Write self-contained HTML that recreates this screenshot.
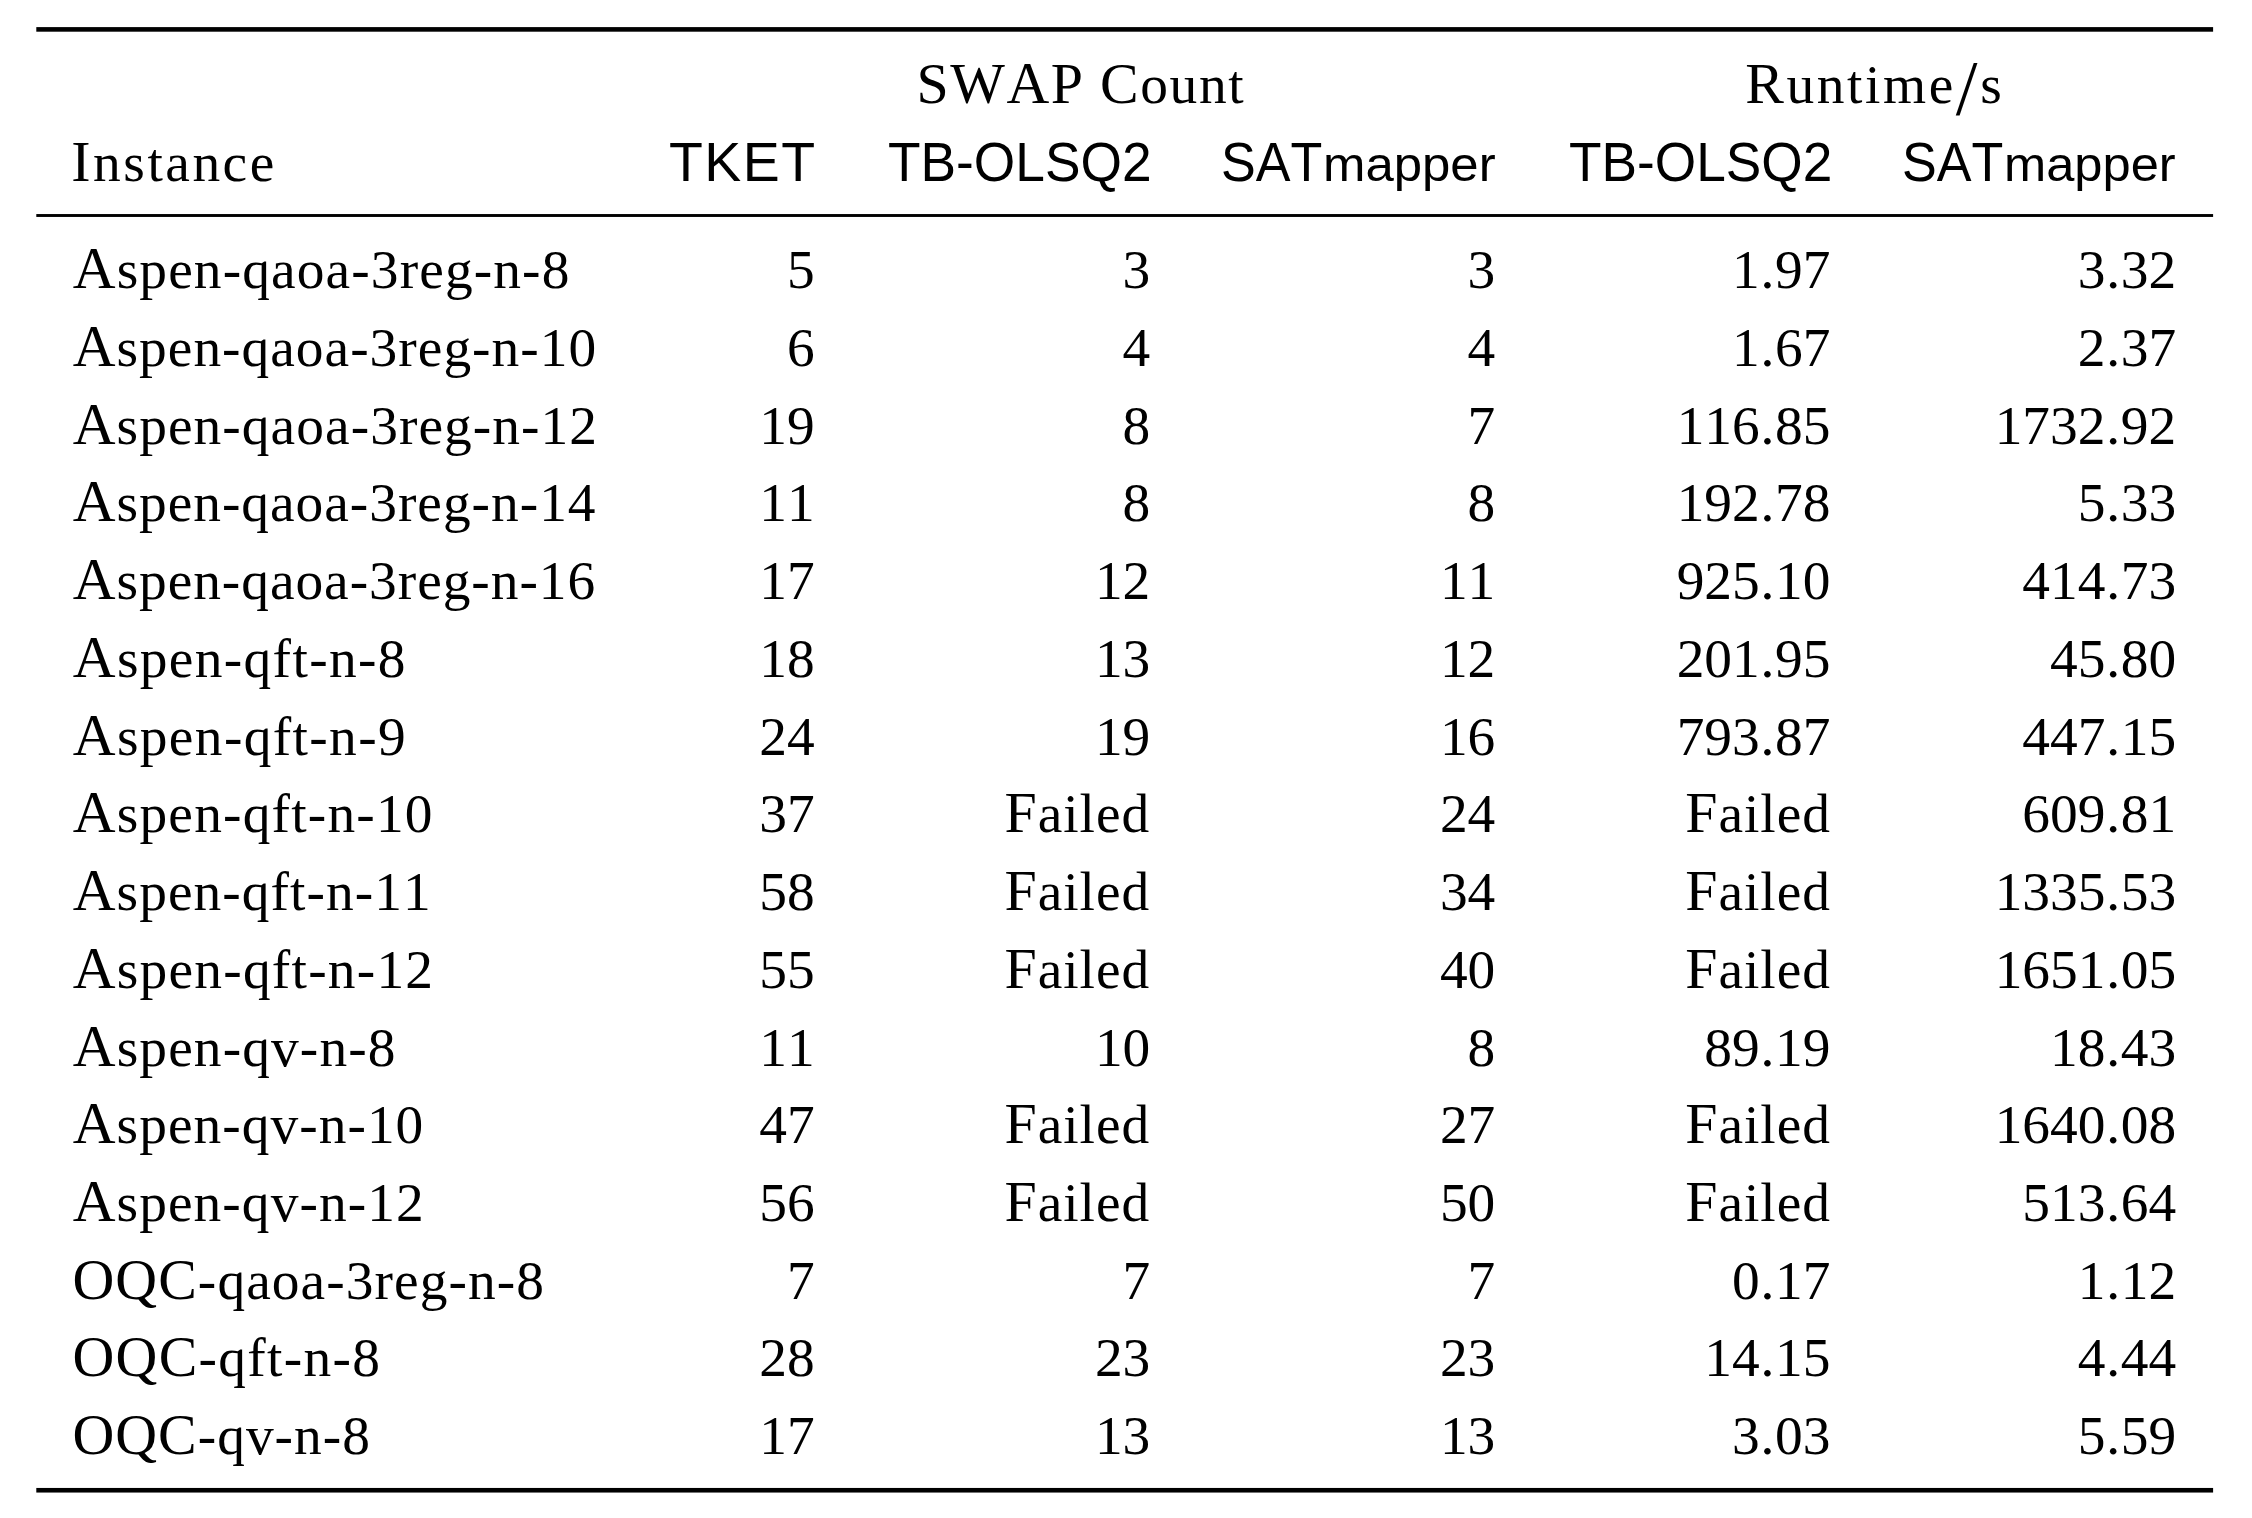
<!DOCTYPE html>
<html lang="en">
<head>
<meta charset="utf-8">
<title>SWAP count and runtime comparison</title>
<style>
html,body{margin:0;padding:0;background:#fff;}
body{width:2252px;height:1518px;position:relative;overflow:hidden;color:#000;}
.tbl{position:absolute;left:0;top:0;width:2252px;height:1518px;}
.rule{position:absolute;left:0;top:0;width:2252px;height:1518px;}
.row{position:absolute;left:0;width:2252px;height:0;}
.c{position:absolute;white-space:pre;line-height:64px;height:64px;font-kerning:none;font-variant-ligatures:none;}
.se{font-family:"Liberation Serif",serif;}
.k{font-size:1.045em;line-height:0;}
.ka{font-size:1.07em;line-height:0;}
.p{margin:0 0.77px;}
.sl{font-size:1.41em;line-height:0;position:relative;top:11px;}
.sa{font-family:"Liberation Sans",sans-serif;transform-origin:0 0;}
</style>
</head>
<body>
<div class="tbl" role="table" aria-label="SWAP count and runtime comparison">
<svg class="rule" aria-hidden="true" width="2252" height="1518" viewBox="0 0 2252 1518"><rect x="36.3" y="27.1" width="2176.8" height="4.6" fill="#000"/><rect x="36.3" y="214.05" width="2176.8" height="2.9" fill="#000"/><rect x="36.3" y="1487.95" width="2176.8" height="4.6" fill="#000"/></svg>
<div class="row hdr" role="row" style="top:103.20px">
<span id="h_swap" role="columnheader" class="c se" style="top:-50.00px;font-size:55.40px;letter-spacing:1.601px;left:916.41px;"><span class="k">SW</span><span class="ka">A</span><span class="k">P</span> <span class="k">C</span>ount</span>
<span id="h_run" role="columnheader" class="c se" style="top:-50.00px;font-size:55.40px;letter-spacing:2.596px;left:1745.21px;"><span class="k">R</span>untime<span class="sl">/</span>s</span>
</div>
<div class="row hdr" role="row" style="top:181.40px">
<span id="h_inst" role="columnheader" class="c se" style="top:-50.00px;font-size:55.40px;letter-spacing:2.522px;left:71.31px;"><span class="k">I</span>nstance</span>
<span id="h_tket" role="columnheader" class="c sa" style="top:-51.00px;font-size:55.00px;transform:scaleX(1.0079);letter-spacing:1.500px;left:668.98px;">TKET</span>
<span id="h_tb1" role="columnheader" class="c sa" style="top:-51.00px;font-size:55.00px;transform:scaleX(0.9688);left:888.04px;">TB-OLSQ2</span>
<span id="h_sat1a" role="columnheader" class="c sa" style="top:-51.00px;font-size:55.00px;transform:scaleX(0.9469);left:1220.89px;">SAT</span>
<span id="h_sat1b" role="presentation" class="c sa" style="top:-49.00px;font-size:49.00px;transform:scaleX(1.0391);left:1322.82px;">mapper</span>
<span id="h_tb2" role="columnheader" class="c sa" style="top:-51.00px;font-size:55.00px;transform:scaleX(0.9678);left:1568.75px;">TB-OLSQ2</span>
<span id="h_sat2a" role="columnheader" class="c sa" style="top:-51.00px;font-size:55.00px;transform:scaleX(0.9472);left:1902.20px;">SAT</span>
<span id="h_sat2b" role="presentation" class="c sa" style="top:-49.00px;font-size:49.00px;transform:scaleX(1.0334);left:2004.48px;">mapper</span>
</div>
<div class="row" role="row" style="top:288.20px">
<span id="r0c0" role="cell" class="c se" style="top:-50.00px;font-size:55.40px;letter-spacing:1.120px;left:72.72px;"><span class="ka">A</span>spen-qaoa-3reg-n-8</span>
<span id="r0c1" role="cell" class="c se" style="top:-50.00px;font-size:55.40px;right:1437.30px;text-align:right;">5</span>
<span id="r0c2" role="cell" class="c se" style="top:-50.00px;font-size:55.40px;right:1101.70px;text-align:right;">3</span>
<span id="r0c3" role="cell" class="c se" style="top:-50.00px;font-size:55.40px;right:756.70px;text-align:right;">3</span>
<span id="r0c4" role="cell" class="c se" style="top:-50.00px;font-size:55.40px;right:421.50px;text-align:right;">1<span class="p">.</span>97</span>
<span id="r0c5" role="cell" class="c se" style="top:-50.00px;font-size:55.40px;right:75.80px;text-align:right;">3<span class="p">.</span>32</span>
</div>
<div class="row" role="row" style="top:365.93px">
<span id="r1c0" role="cell" class="c se" style="top:-50.00px;font-size:55.40px;letter-spacing:1.011px;left:72.72px;"><span class="ka">A</span>spen-qaoa-3reg-n-10</span>
<span id="r1c1" role="cell" class="c se" style="top:-50.00px;font-size:55.40px;right:1437.30px;text-align:right;">6</span>
<span id="r1c2" role="cell" class="c se" style="top:-50.00px;font-size:55.40px;right:1101.70px;text-align:right;">4</span>
<span id="r1c3" role="cell" class="c se" style="top:-50.00px;font-size:55.40px;right:756.70px;text-align:right;">4</span>
<span id="r1c4" role="cell" class="c se" style="top:-50.00px;font-size:55.40px;right:421.50px;text-align:right;">1<span class="p">.</span>67</span>
<span id="r1c5" role="cell" class="c se" style="top:-50.00px;font-size:55.40px;right:75.80px;text-align:right;">2<span class="p">.</span>37</span>
</div>
<div class="row" role="row" style="top:443.66px">
<span id="r2c0" role="cell" class="c se" style="top:-50.00px;font-size:55.40px;letter-spacing:1.059px;left:72.72px;"><span class="ka">A</span>spen-qaoa-3reg-n-12</span>
<span id="r2c1" role="cell" class="c se" style="top:-50.00px;font-size:55.40px;right:1437.30px;text-align:right;">19</span>
<span id="r2c2" role="cell" class="c se" style="top:-50.00px;font-size:55.40px;right:1101.70px;text-align:right;">8</span>
<span id="r2c3" role="cell" class="c se" style="top:-50.00px;font-size:55.40px;right:756.70px;text-align:right;">7</span>
<span id="r2c4" role="cell" class="c se" style="top:-50.00px;font-size:55.40px;right:421.50px;text-align:right;">116<span class="p">.</span>85</span>
<span id="r2c5" role="cell" class="c se" style="top:-50.00px;font-size:55.40px;right:75.80px;text-align:right;">1732<span class="p">.</span>92</span>
</div>
<div class="row" role="row" style="top:521.39px">
<span id="r3c0" role="cell" class="c se" style="top:-50.00px;font-size:55.40px;letter-spacing:0.979px;left:72.72px;"><span class="ka">A</span>spen-qaoa-3reg-n-14</span>
<span id="r3c1" role="cell" class="c se" style="top:-50.00px;font-size:55.40px;right:1437.30px;text-align:right;">11</span>
<span id="r3c2" role="cell" class="c se" style="top:-50.00px;font-size:55.40px;right:1101.70px;text-align:right;">8</span>
<span id="r3c3" role="cell" class="c se" style="top:-50.00px;font-size:55.40px;right:756.70px;text-align:right;">8</span>
<span id="r3c4" role="cell" class="c se" style="top:-50.00px;font-size:55.40px;right:421.50px;text-align:right;">192<span class="p">.</span>78</span>
<span id="r3c5" role="cell" class="c se" style="top:-50.00px;font-size:55.40px;right:75.80px;text-align:right;">5<span class="p">.</span>33</span>
</div>
<div class="row" role="row" style="top:599.12px">
<span id="r4c0" role="cell" class="c se" style="top:-50.00px;font-size:55.40px;letter-spacing:0.960px;left:72.72px;"><span class="ka">A</span>spen-qaoa-3reg-n-16</span>
<span id="r4c1" role="cell" class="c se" style="top:-50.00px;font-size:55.40px;right:1437.30px;text-align:right;">17</span>
<span id="r4c2" role="cell" class="c se" style="top:-50.00px;font-size:55.40px;right:1101.70px;text-align:right;">12</span>
<span id="r4c3" role="cell" class="c se" style="top:-50.00px;font-size:55.40px;right:756.70px;text-align:right;">11</span>
<span id="r4c4" role="cell" class="c se" style="top:-50.00px;font-size:55.40px;right:421.50px;text-align:right;">925<span class="p">.</span>10</span>
<span id="r4c5" role="cell" class="c se" style="top:-50.00px;font-size:55.40px;right:75.80px;text-align:right;">414<span class="p">.</span>73</span>
</div>
<div class="row" role="row" style="top:676.85px">
<span id="r5c0" role="cell" class="c se" style="top:-50.00px;font-size:55.40px;letter-spacing:1.343px;left:72.72px;"><span class="ka">A</span>spen-qft-n-8</span>
<span id="r5c1" role="cell" class="c se" style="top:-50.00px;font-size:55.40px;right:1437.30px;text-align:right;">18</span>
<span id="r5c2" role="cell" class="c se" style="top:-50.00px;font-size:55.40px;right:1101.70px;text-align:right;">13</span>
<span id="r5c3" role="cell" class="c se" style="top:-50.00px;font-size:55.40px;right:756.70px;text-align:right;">12</span>
<span id="r5c4" role="cell" class="c se" style="top:-50.00px;font-size:55.40px;right:421.50px;text-align:right;">201<span class="p">.</span>95</span>
<span id="r5c5" role="cell" class="c se" style="top:-50.00px;font-size:55.40px;right:75.80px;text-align:right;">45<span class="p">.</span>80</span>
</div>
<div class="row" role="row" style="top:754.58px">
<span id="r6c0" role="cell" class="c se" style="top:-50.00px;font-size:55.40px;letter-spacing:1.364px;left:72.72px;"><span class="ka">A</span>spen-qft-n-9</span>
<span id="r6c1" role="cell" class="c se" style="top:-50.00px;font-size:55.40px;right:1437.30px;text-align:right;">24</span>
<span id="r6c2" role="cell" class="c se" style="top:-50.00px;font-size:55.40px;right:1101.70px;text-align:right;">19</span>
<span id="r6c3" role="cell" class="c se" style="top:-50.00px;font-size:55.40px;right:756.70px;text-align:right;">16</span>
<span id="r6c4" role="cell" class="c se" style="top:-50.00px;font-size:55.40px;right:421.50px;text-align:right;">793<span class="p">.</span>87</span>
<span id="r6c5" role="cell" class="c se" style="top:-50.00px;font-size:55.40px;right:75.80px;text-align:right;">447<span class="p">.</span>15</span>
</div>
<div class="row" role="row" style="top:832.31px">
<span id="r7c0" role="cell" class="c se" style="top:-50.00px;font-size:55.40px;letter-spacing:1.197px;left:72.72px;"><span class="ka">A</span>spen-qft-n-10</span>
<span id="r7c1" role="cell" class="c se" style="top:-50.00px;font-size:55.40px;right:1437.30px;text-align:right;">37</span>
<span id="r7c2" role="cell" class="c se" style="top:-50.00px;font-size:55.40px;letter-spacing:0.952px;right:1101.90px;text-align:right;"><span class="k">F</span>ailed</span>
<span id="r7c3" role="cell" class="c se" style="top:-50.00px;font-size:55.40px;right:756.70px;text-align:right;">24</span>
<span id="r7c4" role="cell" class="c se" style="top:-50.00px;font-size:55.40px;letter-spacing:0.952px;right:421.20px;text-align:right;"><span class="k">F</span>ailed</span>
<span id="r7c5" role="cell" class="c se" style="top:-50.00px;font-size:55.40px;right:75.80px;text-align:right;">609<span class="p">.</span>81</span>
</div>
<div class="row" role="row" style="top:910.04px">
<span id="r8c0" role="cell" class="c se" style="top:-50.00px;font-size:55.40px;letter-spacing:1.059px;left:72.72px;"><span class="ka">A</span>spen-qft-n-11</span>
<span id="r8c1" role="cell" class="c se" style="top:-50.00px;font-size:55.40px;right:1437.30px;text-align:right;">58</span>
<span id="r8c2" role="cell" class="c se" style="top:-50.00px;font-size:55.40px;letter-spacing:0.952px;right:1101.90px;text-align:right;"><span class="k">F</span>ailed</span>
<span id="r8c3" role="cell" class="c se" style="top:-50.00px;font-size:55.40px;right:756.70px;text-align:right;">34</span>
<span id="r8c4" role="cell" class="c se" style="top:-50.00px;font-size:55.40px;letter-spacing:0.952px;right:421.20px;text-align:right;"><span class="k">F</span>ailed</span>
<span id="r8c5" role="cell" class="c se" style="top:-50.00px;font-size:55.40px;right:75.80px;text-align:right;">1335<span class="p">.</span>53</span>
</div>
<div class="row" role="row" style="top:987.77px">
<span id="r9c0" role="cell" class="c se" style="top:-50.00px;font-size:55.40px;letter-spacing:1.235px;left:72.72px;"><span class="ka">A</span>spen-qft-n-12</span>
<span id="r9c1" role="cell" class="c se" style="top:-50.00px;font-size:55.40px;right:1437.30px;text-align:right;">55</span>
<span id="r9c2" role="cell" class="c se" style="top:-50.00px;font-size:55.40px;letter-spacing:0.952px;right:1101.90px;text-align:right;"><span class="k">F</span>ailed</span>
<span id="r9c3" role="cell" class="c se" style="top:-50.00px;font-size:55.40px;right:756.70px;text-align:right;">40</span>
<span id="r9c4" role="cell" class="c se" style="top:-50.00px;font-size:55.40px;letter-spacing:0.952px;right:421.20px;text-align:right;"><span class="k">F</span>ailed</span>
<span id="r9c5" role="cell" class="c se" style="top:-50.00px;font-size:55.40px;right:75.80px;text-align:right;">1651<span class="p">.</span>05</span>
</div>
<div class="row" role="row" style="top:1065.50px">
<span id="r10c0" role="cell" class="c se" style="top:-50.00px;font-size:55.40px;letter-spacing:1.117px;left:72.72px;"><span class="ka">A</span>spen-qv-n-8</span>
<span id="r10c1" role="cell" class="c se" style="top:-50.00px;font-size:55.40px;right:1437.30px;text-align:right;">11</span>
<span id="r10c2" role="cell" class="c se" style="top:-50.00px;font-size:55.40px;right:1101.70px;text-align:right;">10</span>
<span id="r10c3" role="cell" class="c se" style="top:-50.00px;font-size:55.40px;right:756.70px;text-align:right;">8</span>
<span id="r10c4" role="cell" class="c se" style="top:-50.00px;font-size:55.40px;right:421.50px;text-align:right;">89<span class="p">.</span>19</span>
<span id="r10c5" role="cell" class="c se" style="top:-50.00px;font-size:55.40px;right:75.80px;text-align:right;">18<span class="p">.</span>43</span>
</div>
<div class="row" role="row" style="top:1143.23px">
<span id="r11c0" role="cell" class="c se" style="top:-50.00px;font-size:55.40px;letter-spacing:1.037px;left:72.72px;"><span class="ka">A</span>spen-qv-n-10</span>
<span id="r11c1" role="cell" class="c se" style="top:-50.00px;font-size:55.40px;right:1437.30px;text-align:right;">47</span>
<span id="r11c2" role="cell" class="c se" style="top:-50.00px;font-size:55.40px;letter-spacing:0.952px;right:1101.90px;text-align:right;"><span class="k">F</span>ailed</span>
<span id="r11c3" role="cell" class="c se" style="top:-50.00px;font-size:55.40px;right:756.70px;text-align:right;">27</span>
<span id="r11c4" role="cell" class="c se" style="top:-50.00px;font-size:55.40px;letter-spacing:0.952px;right:421.20px;text-align:right;"><span class="k">F</span>ailed</span>
<span id="r11c5" role="cell" class="c se" style="top:-50.00px;font-size:55.40px;right:75.80px;text-align:right;">1640<span class="p">.</span>08</span>
</div>
<div class="row" role="row" style="top:1220.96px">
<span id="r12c0" role="cell" class="c se" style="top:-50.00px;font-size:55.40px;letter-spacing:1.060px;left:72.72px;"><span class="ka">A</span>spen-qv-n-12</span>
<span id="r12c1" role="cell" class="c se" style="top:-50.00px;font-size:55.40px;right:1437.30px;text-align:right;">56</span>
<span id="r12c2" role="cell" class="c se" style="top:-50.00px;font-size:55.40px;letter-spacing:0.952px;right:1101.90px;text-align:right;"><span class="k">F</span>ailed</span>
<span id="r12c3" role="cell" class="c se" style="top:-50.00px;font-size:55.40px;right:756.70px;text-align:right;">50</span>
<span id="r12c4" role="cell" class="c se" style="top:-50.00px;font-size:55.40px;letter-spacing:0.952px;right:421.20px;text-align:right;"><span class="k">F</span>ailed</span>
<span id="r12c5" role="cell" class="c se" style="top:-50.00px;font-size:55.40px;right:75.80px;text-align:right;">513<span class="p">.</span>64</span>
</div>
<div class="row" role="row" style="top:1298.69px">
<span id="r13c0" role="cell" class="c se" style="top:-50.00px;font-size:55.40px;letter-spacing:1.077px;left:72.43px;"><span class="k">OQC</span>-qaoa-3reg-n-8</span>
<span id="r13c1" role="cell" class="c se" style="top:-50.00px;font-size:55.40px;right:1437.30px;text-align:right;">7</span>
<span id="r13c2" role="cell" class="c se" style="top:-50.00px;font-size:55.40px;right:1101.70px;text-align:right;">7</span>
<span id="r13c3" role="cell" class="c se" style="top:-50.00px;font-size:55.40px;right:756.70px;text-align:right;">7</span>
<span id="r13c4" role="cell" class="c se" style="top:-50.00px;font-size:55.40px;right:421.50px;text-align:right;">0<span class="p">.</span>17</span>
<span id="r13c5" role="cell" class="c se" style="top:-50.00px;font-size:55.40px;right:75.80px;text-align:right;">1<span class="p">.</span>12</span>
</div>
<div class="row" role="row" style="top:1376.42px">
<span id="r14c0" role="cell" class="c se" style="top:-50.00px;font-size:55.40px;letter-spacing:1.315px;left:72.43px;"><span class="k">OQC</span>-qft-n-8</span>
<span id="r14c1" role="cell" class="c se" style="top:-50.00px;font-size:55.40px;right:1437.30px;text-align:right;">28</span>
<span id="r14c2" role="cell" class="c se" style="top:-50.00px;font-size:55.40px;right:1101.70px;text-align:right;">23</span>
<span id="r14c3" role="cell" class="c se" style="top:-50.00px;font-size:55.40px;right:756.70px;text-align:right;">23</span>
<span id="r14c4" role="cell" class="c se" style="top:-50.00px;font-size:55.40px;right:421.50px;text-align:right;">14<span class="p">.</span>15</span>
<span id="r14c5" role="cell" class="c se" style="top:-50.00px;font-size:55.40px;right:75.80px;text-align:right;">4<span class="p">.</span>44</span>
</div>
<div class="row" role="row" style="top:1454.15px">
<span id="r15c0" role="cell" class="c se" style="top:-50.00px;font-size:55.40px;letter-spacing:1.027px;left:72.43px;"><span class="k">OQC</span>-qv-n-8</span>
<span id="r15c1" role="cell" class="c se" style="top:-50.00px;font-size:55.40px;right:1437.30px;text-align:right;">17</span>
<span id="r15c2" role="cell" class="c se" style="top:-50.00px;font-size:55.40px;right:1101.70px;text-align:right;">13</span>
<span id="r15c3" role="cell" class="c se" style="top:-50.00px;font-size:55.40px;right:756.70px;text-align:right;">13</span>
<span id="r15c4" role="cell" class="c se" style="top:-50.00px;font-size:55.40px;right:421.50px;text-align:right;">3<span class="p">.</span>03</span>
<span id="r15c5" role="cell" class="c se" style="top:-50.00px;font-size:55.40px;right:75.80px;text-align:right;">5<span class="p">.</span>59</span>
</div>
</div>
</body>
</html>
